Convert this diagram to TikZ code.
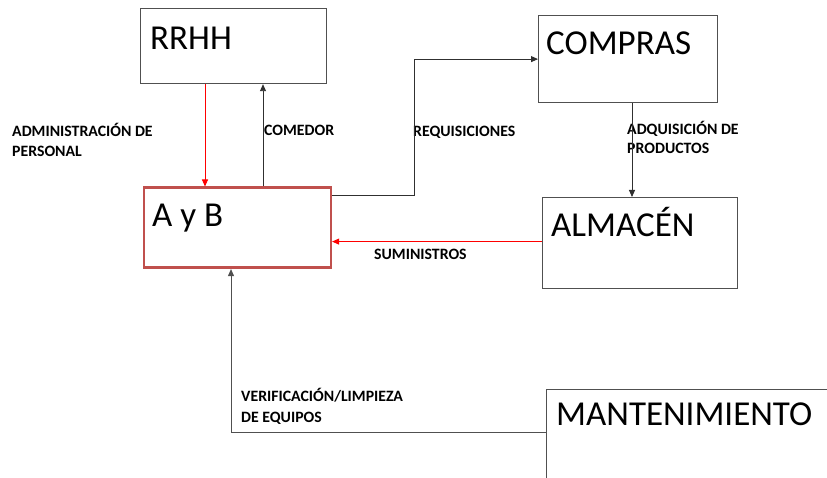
\documentclass[tikz,border=0pt]{standalone}
\usepackage{fontspec}
\setmainfont{Carlito}
\usetikzlibrary{arrows.meta}
\definecolor{boxgray}{HTML}{505050}
\definecolor{linegray}{HTML}{303030}
\definecolor{aybred}{HTML}{C0504D}
\tikzset{
  box/.style={draw=boxgray, line width=1.2pt, rectangle, inner sep=0pt, anchor=north west, fill=white},
  redbox/.style={draw=aybred, line width=2.6pt, rectangle, inner sep=0pt, anchor=north west, fill=white},
  big/.style={font=\fontsize{35}{40}\selectfont, inner sep=0pt, anchor=base west},
  lbl/.style={font=\fontsize{15.8}{18}\selectfont\bfseries, inner sep=0pt, anchor=base west},
  blk/.style={draw=linegray, line width=0.9pt, -{Triangle[length=7pt,width=6pt]}},
  redarr/.style={draw=red, line width=1pt, -{Triangle[length=7pt,width=6pt]}, color=red},
  plain/.style={draw=boxgray, line width=1.2pt}
}
\begin{document}
\begin{tikzpicture}[x=1pt,y=-1pt]
\useasboundingbox (0,0) rectangle (827,478);
\clip (0,0) rectangle (827,478);
\fill[white] (0,0) rectangle (827,478);
% boxes
\node[box, minimum width=186pt, minimum height=75pt] (rrhh) at (140,8) {};
\node[redbox, minimum width=187pt, minimum height=80pt] (ayb) at (142.5,186.5) {};
\node[box, minimum width=179pt, minimum height=87pt] (compras) at (538,15) {};
\node[box, minimum width=195pt, minimum height=91pt] (almacen) at (542,197) {};
\node[box, minimum width=300pt, minimum height=110pt] (mant) at (546,389) {};
% box texts
\node[big] (trrhh) at (150,50) {RRHH};
\node[big] (tayb) at (152,227) {A y B};
\node[big] (tcompras) at (546,55) {COMPRAS};
\node[big] (talmacen) at (551,237) {ALMACÉN};
\node[big] (tmant) at (556,425) {MANTENIMIENTO};
% labels
\node[lbl] (l1a) at (12,137) {ADMINISTRACIÓN DE};
\node[lbl] (l1b) at (12,157) {PERSONAL};
\node[lbl] (l2) at (264,136) {COMEDOR};
\node[lbl] (l3) at (413,137) {REQUISICIONES};
\node[lbl] (l4a) at (627,135) {ADQUISICIÓN DE};
\node[lbl] (l4b) at (627,154) {PRODUCTOS};
\node[lbl] (l5) at (374,260) {SUMINISTROS};
\node[lbl] (l6a) at (241,401) {VERIFICACIÓN/LIMPIEZA};
\node[lbl] (l6b) at (241,422) {DE EQUIPOS};
% connectors
\draw[redarr] ([xshift=65pt]rrhh.south west) -- ([xshift=62.5pt]ayb.north west);
\draw[blk] ([xshift=120.5pt]ayb.north west) -- ([xshift=123pt]rrhh.south west);
\draw[blk] ([yshift=-9pt]ayb.north east) -- ++(82,0) |- (compras.west);
\draw[blk] ([xshift=94pt]compras.south west) -- ([xshift=90pt]almacen.north west);
\draw[redarr] ([yshift=1.5pt]almacen.west) -- ([yshift=1.5pt]almacen.west -| ayb.east);
\draw[blk, draw=boxgray] ([yshift=-43pt]mant.north west) -| ([xshift=88.5pt]ayb.south west);
\end{tikzpicture}
\end{document}
